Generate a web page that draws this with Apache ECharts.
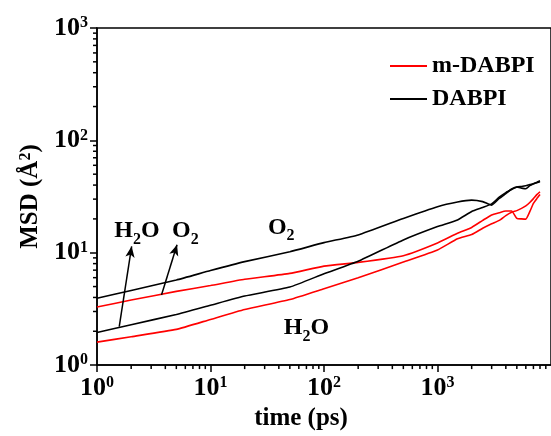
<!DOCTYPE html>
<html>
<head>
<meta charset="utf-8">
<title>MSD</title>
<script src="https://cdn.jsdelivr.net/npm/echarts@6/dist/echarts.min.js"></script>
<style>
  html, body { margin: 0; padding: 0; background: #fff; }
  #chart { width: 551px; height: 436px; }
</style>
</head>
<body>
<div id="chart"></div>
<script>
// time (ps)
const times = [1, 2, 5, 10, 20, 50, 100, 200, 500, 1000, 1500, 2000, 2500, 3000, 3500, 4000, 4500, 5000, 5500, 6000, 6500, 7000, 7500, 8000];
// MSD values
const dabpiO2 = [3.93, 4.62, 5.72, 6.94, 8.33, 10.2, 12.3, 14.4, 20.2, 25.7, 28.3, 29.4, 28.5, 26.5, 30.4, 33.6, 36.9, 38.4, 37.6, 37.1, 39.5, 41.1, 42.4, 43.7];
const dabpiH2O = [1.95, 2.29, 2.82, 3.41, 4.12, 4.95, 6.5, 8.4, 13.0, 17.1, 19.6, 23.3, 25.3, 27.2, 31.2, 34.3, 36.5, 38.4, 38.9, 39.5, 40.4, 41.1, 42.0, 42.8];
const mdabpiO2 = [3.29, 3.79, 4.53, 5.11, 5.8, 6.55, 7.6, 8.2, 9.4, 12.2, 14.9, 16.8, 19.4, 21.7, 22.7, 23.5, 23.5, 20.2, 20.0, 19.9, 23.2, 27.5, 30.3, 32.9];
const mdabpiH2O = [1.6, 1.79, 2.08, 2.55, 3.12, 3.83, 4.78, 5.98, 8.27, 10.6, 13.3, 14.5, 16.5, 18.1, 19.4, 21.4, 22.9, 23.7, 24.8, 26.1, 28.0, 30.3, 32.9, 34.9];

// minor ticks
const xMinor = [2, 3, 4, 5, 6, 7, 8, 9, 20, 30, 40, 50, 60, 70, 80, 90, 200, 300, 400, 500, 600, 700, 800, 900, 2000, 3000, 4000, 5000, 6000, 7000, 8000, 9000];
const yMinor = [2, 3, 4, 5, 6, 7, 8, 9, 20, 30, 40, 50, 60, 70, 80, 90, 200, 300, 400, 500, 600, 700, 800, 900];

// annotations (data coordinates)
const notes = [
  { text: '{b|H}{s|2}{b|O}', x: 2.25, y: 14.8 },
  { text: '{b|O}{s|2}', x: 6.0, y: 14.8 },
  { text: '{b|O}{s|2}', x: 42, y: 16.0 },
  { text: '{b|H}{s|2}{b|O}', x: 70, y: 2.02 }
];
// arrows: [start, tip]
const arrows = [
  [[1.57, 2.2], [2.02, 11.4]],
  [[3.7, 4.2], [5.07, 11.8]]
];

const serif = '"Liberation Serif", "Times New Roman", serif';
const supRich = {
  b: { fontFamily: serif, fontWeight: 'bold', fontSize: 26, color: '#000' },
  s: { fontFamily: serif, fontWeight: 'bold', fontSize: 16, color: '#000', verticalAlign: 'top' }
};
const subRich = {
  b: { fontFamily: serif, fontWeight: 'bold', fontSize: 24, color: '#000', verticalAlign: 'top', lineHeight: 24 },
  s: { fontFamily: serif, fontWeight: 'bold', fontSize: 16, color: '#000', verticalAlign: 'bottom', padding: [13, 0, 0, 0] }
};

function powLabel(v) {
  const e = Math.round(Math.log10(v));
  return '{b|10}{s|' + e + '}';
}
function zip(ys) {
  return times.map((t, i) => [t, ys[i]]);
}
function lineSeries(name, color, ys) {
  return {
    name: name,
    type: 'line',
    data: zip(ys),
    symbol: 'none',
    smooth: 0.15,
    lineStyle: { color: color, width: 1.6 },
    itemStyle: { color: color }
  };
}
function tickSeries(data, dx, dy) {
  return {
    type: 'custom',
    silent: true,
    data: data,
    renderItem: (params, api) => {
      const p = api.coord([api.value(0), api.value(1)]);
      return {
        type: 'line',
        shape: { x1: p[0], y1: p[1], x2: p[0] + dx, y2: p[1] + dy },
        style: { stroke: '#000', lineWidth: 1.5 }
      };
    }
  };
}

const axisCommon = {
  type: 'log',
  logBase: 10,
  axisLine: { lineStyle: { color: '#000', width: 1.5 } },
  axisTick: { length: 7, lineStyle: { color: '#000', width: 1.5 } },
  splitLine: { show: false },
  nameLocation: 'middle'
};

const chart = echarts.init(document.getElementById('chart'));

const redO2 = lineSeries('m-DABPI', '#ff0000', mdabpiO2);
const redH2O = lineSeries('m-DABPI', '#ff0000', mdabpiH2O);
const blackO2 = lineSeries('DABPI', '#000', dabpiO2);
const blackH2O = lineSeries('DABPI', '#000', dabpiH2O);

blackO2.markLine = {
  silent: true,
  symbol: ['none', 'arrow'],
  symbolSize: [7, 11],
  lineStyle: { color: '#000', width: 1.5, type: 'solid' },
  label: { show: false },
  data: arrows.map(a => [{ coord: a[0] }, { coord: a[1] }])
};
blackO2.markPoint = {
  silent: true,
  symbol: 'circle',
  symbolSize: 0,
  data: notes.map(n => ({
    coord: [n.x, n.y],
    label: { show: true, position: 'inside', formatter: n.text, rich: subRich }
  }))
};

chart.setOption({
  animation: false,
  grid: {
    // right edge (10^4) sits past the canvas, as in the original
    left: 97, right: -13, top: 28, bottom: 68,
    show: true, borderColor: '#000', borderWidth: 1.5
  },
  legend: {
    data: ['m-DABPI', 'DABPI'],
    orient: 'vertical',
    left: 390,
    top: 54,
    padding: 0,
    itemGap: 9,
    itemWidth: 37,
    itemHeight: 2,
    icon: 'rect',
    textStyle: { fontFamily: serif, fontWeight: 'bold', fontSize: 24, color: '#000' }
  },
  xAxis: Object.assign({}, axisCommon, {
    min: 1,
    max: 10000,
    axisLabel: { formatter: powLabel, rich: supRich, margin: 10, showMaxLabel: false },
    name: 'time (ps)',
    nameGap: 40,
    nameTextStyle: { fontFamily: serif, fontWeight: 'bold', fontSize: 25, color: '#000', padding: [0, 46, 0, 0] }
  }),
  yAxis: Object.assign({}, axisCommon, {
    min: 1,
    max: 1000,
    axisLabel: { formatter: powLabel, rich: supRich, margin: 9 },
    name: '{b|MSD (Å}{s|2}{b|)}',
    nameGap: 52,
    nameTextStyle: {
      rich: {
        b: { fontFamily: serif, fontWeight: 'bold', fontSize: 25, color: '#000' },
        s: { fontFamily: serif, fontWeight: 'bold', fontSize: 16, color: '#000', verticalAlign: 'top' }
      }
    }
  }),
  series: [
    redO2, redH2O, blackO2, blackH2O,
    tickSeries(xMinor.map(v => [v, 1]), 0, 4),
    tickSeries(yMinor.map(v => [1, v]), -4, 0)
  ]
});
</script>
</body>
</html>
